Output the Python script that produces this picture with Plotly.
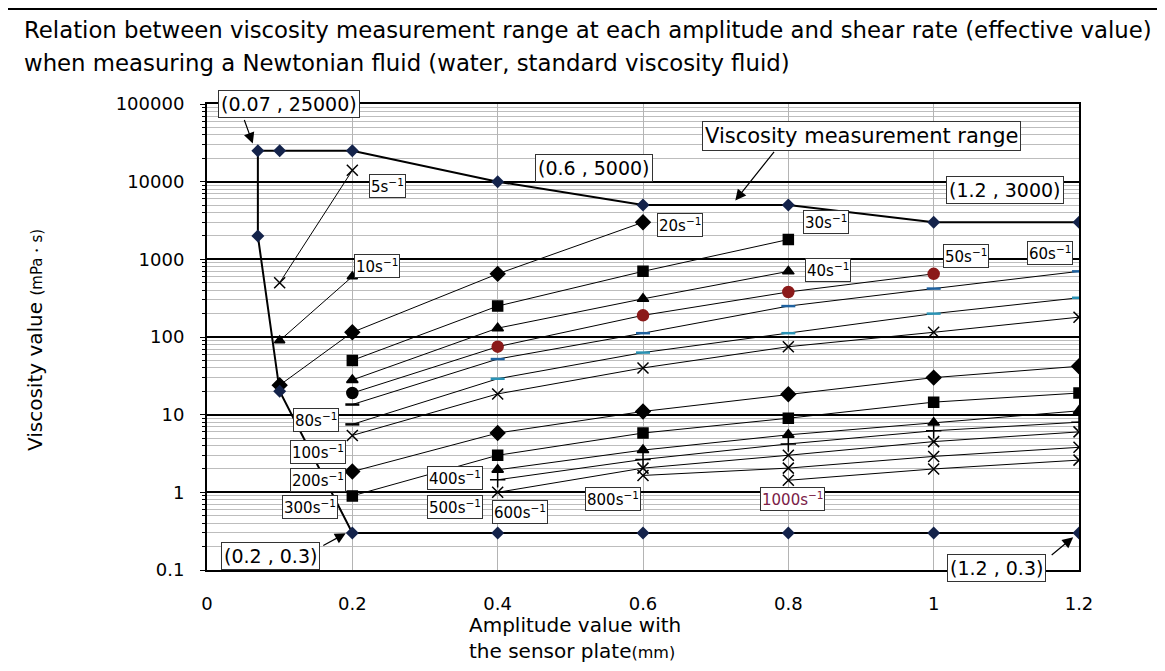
import numpy as np
import plotly.graph_objects as go

# Граница диапазона измерения вязкости
range_amp = [1.2, 1.0, 0.8, 0.6, 0.4, 0.2, 0.1, 0.07, 0.07, 0.1, 0.2, 0.4, 0.6, 0.8, 1.0, 1.2]
range_visc = [3000, 3000, 5000, 5000, 10000, 25000, 25000, 25000, 2000, 20, 0.3, 0.3, 0.3, 0.3, 0.3, 0.3]

# Кривые по скоростям сдвига
amp_5, visc_5 = [0.1, 0.2], [500, 14000]
amp_10, visc_10 = [0.1, 0.2], [90, 600]
amp_20, visc_20 = [0.1, 0.2, 0.4, 0.6], [24, 115, 650, 3000]
amp_30, visc_30 = [0.2, 0.4, 0.6, 0.8], [50, 250, 700, 1800]
amp_40, visc_40 = [0.2, 0.4, 0.6, 0.8], [28, 130, 310, 700]
amp_50, visc_50 = [0.2, 0.4, 0.6, 0.8, 1.0], [19, 75, 190, 380, 650]
amp_60, visc_60 = [0.2, 0.4, 0.6, 0.8, 1.0, 1.2], [13.5, 52, 112, 250, 420, 700]
amp_80, visc_80 = [0.2, 0.4, 0.6, 0.8, 1.0, 1.2], [7.5, 29, 63, 112, 200, 320]
amp_100, visc_100 = [0.2, 0.4, 0.6, 0.8, 1.0, 1.2], [5.4, 18.5, 40, 75, 115, 180]
amp_200, visc_200 = [0.2, 0.4, 0.6, 0.8, 1.0, 1.2], [1.85, 5.8, 11, 18.3, 30, 42]
amp_300, visc_300 = [0.2, 0.4, 0.6, 0.8, 1.0, 1.2], [0.9, 3.0, 5.8, 9.0, 14.5, 19]
amp_400, visc_400 = [0.4, 0.6, 0.8, 1.0, 1.2], [1.95, 3.5, 5.5, 7.9, 11.2]
amp_500, visc_500 = [0.4, 0.6, 0.8, 1.0, 1.2], [1.45, 2.65, 4.2, 6.2, 8.0]
amp_600, visc_600 = [0.4, 0.6, 0.8, 1.0, 1.2], [1.0, 2.05, 3.0, 4.5, 6.0]
amp_800, visc_800 = [0.6, 0.8, 1.0, 1.2], [1.65, 2.05, 2.9, 3.8]
amp_1000, visc_1000 = [0.8, 1.0, 1.2], [1.43, 2.0, 2.6]

y_ticks = [0.1, 1, 10, 100, 1000, 10000, 100000]
y_ticktext = ["0.1", "1", "10", "100", "1000", "10000", "100000"]
x_ticks = [0, 0.2, 0.4, 0.6, 0.8, 1.0, 1.2]
x_ticktext = ["0", "0.2", "0.4", "0.6", "0.8", "1", "1.2"]

FONT = "DejaVu Sans"
NAVY = "#14234b"
MAROON = "#8b1a1a"
BLUE = "#1f62a0"
TEAL = "#2a93b5"

fig = go.Figure()

# (amp, visc, символ, размер, цвет маркера)
series = [
    (amp_5, visc_5, "x-thin-open", 11, "black"),
    (amp_10, visc_10, "triangle-up", 9, "black"),
    (amp_20, visc_20, "diamond", 11, "black"),
    (amp_30, visc_30, "square", 10, "black"),
    (amp_40, visc_40, "triangle-up", 10, "black"),
    (amp_50, visc_50, "circle", 11, ["black"] + [MAROON] * 4),
    (amp_60, visc_60, "line-ew-open", 10, ["black"] + [BLUE] * 5),
    (amp_80, visc_80, "line-ew-open", 10, ["black"] + [TEAL] * 5),
    (amp_100, visc_100, "x-thin-open", 11, "black"),
    (amp_200, visc_200, "diamond", 11, "black"),
    (amp_300, visc_300, "square", 10, "black"),
    (amp_400, visc_400, "triangle-up", 10, "black"),
    (amp_500, visc_500, "cross-thin-open", 11, "black"),
    (amp_600, visc_600, "x-thin-open", 11, "black"),
    (amp_800, visc_800, "x-thin-open", 11, "black"),
    (amp_1000, visc_1000, "x-thin-open", 11, "black"),
]
for amp, visc, sym, size, col in series:
    fig.add_trace(go.Scatter(
        x=amp, y=visc, mode="lines+markers",
        line=dict(color="black", width=1),
        marker=dict(symbol=sym, size=size, color=col,
                    line=dict(color=col, width=2.5 if "line-ew" in sym else 1.5)),
        showlegend=False, hoverinfo="skip",
    ))

fig.add_trace(go.Scatter(
    x=range_amp, y=range_visc, mode="lines+markers",
    line=dict(color="black", width=2),
    marker=dict(symbol="diamond", size=10, color=NAVY),
    showlegend=False, hoverinfo="skip",
))

# Подписи скоростей сдвига: (текст, x, y, цвет)
rate_labels = [
    ("5s<sup>−1</sup>", 0.248, 8700, "black"),
    ("10s<sup>−1</sup>", 0.234, 810, "black"),
    ("20s<sup>−1</sup>", 0.651, 2730, "black"),
    ("30s<sup>−1</sup>", 0.852, 2990, "black"),
    ("40s<sup>−1</sup>", 0.855, 720, "black"),
    ("50s<sup>−1</sup>", 1.044, 1120, "black"),
    ("60s<sup>−1</sup>", 1.160, 1190, "black"),
    ("80s<sup>−1</sup>", 0.150, 8.45, "black"),
    ("100s<sup>−1</sup>", 0.153, 3.27, "black"),
    ("200s<sup>−1</sup>", 0.153, 1.43, "black"),
    ("300s<sup>−1</sup>", 0.142, 0.64, "black"),
    ("400s<sup>−1</sup>", 0.341, 1.51, "black"),
    ("500s<sup>−1</sup>", 0.341, 0.64, "black"),
    ("600s<sup>−1</sup>", 0.431, 0.553, "black"),
    ("800s<sup>−1</sup>", 0.559, 0.81, "black"),
    ("1000s<sup>−1</sup>", 0.806, 0.81, "#7a2046"),
]
for text, x, y, col in rate_labels:
    fig.add_annotation(x=x, y=np.log10(y), text=text, showarrow=False,
                       font=dict(family=FONT, size=15, color=col),
                       bgcolor="white", bordercolor="#333333", borderwidth=1, borderpad=1)

# Координатные подписи
point_labels = [
    ("(0.07 , 25000)", 0.113, 100000, 19),
    ("(0.6 , 5000)", 0.533, 14800, 19),
    ("(1.2 , 3000)", 1.098, 7700, 19),
    ("(0.2 , 0.3)", 0.087, 0.15, 19),
    ("(1.2 , 0.3)", 1.087, 0.105, 19),
    ("Viscosity measurement range", 0.901, 39300, 21),
]
for text, x, y, size in point_labels:
    fig.add_annotation(x=x, y=np.log10(y), text=text, showarrow=False,
                       font=dict(family=FONT, size=size, color="black"),
                       bgcolor="white", bordercolor="#333333", borderwidth=1, borderpad=2)

# Стрелки: (x, y головы, смещение хвоста в пикселях)
arrows = [
    (0.063, 31000, -9, -25),
    (0.727, 5730, 40, -50),
    (0.191, 0.297, -24, 13),
    (1.192, 0.264, -23, 19),
]
for x, y, ax, ay in arrows:
    fig.add_annotation(x=x, y=np.log10(y), ax=ax, ay=ay, text="", showarrow=True,
                       arrowhead=2, arrowsize=1.8, arrowwidth=1.2, arrowcolor="black")

# Заголовок
fig.add_annotation(xref="paper", yref="paper", x=-0.212, y=1.159, xanchor="left", yanchor="middle",
                   text="Relation between viscosity measurement range at each amplitude and shear rate (effective value)",
                   showarrow=False, font=dict(family=FONT, size=22.8, color="black"))
fig.add_annotation(xref="paper", yref="paper", x=-0.212, y=1.088, xanchor="left", yanchor="middle",
                   text="when measuring a Newtonian fluid (water, standard viscosity fluid)",
                   showarrow=False, font=dict(family=FONT, size=22.8, color="black"))

# Подписи осей
fig.add_annotation(xref="paper", yref="paper", x=0.298, y=-0.145, xanchor="left", yanchor="middle",
                   text="Amplitude value with<br>the sensor plate<span style='font-size:16px'>(mm)</span>",
                   showarrow=False, align="left", font=dict(family=FONT, size=20, color="black"))
fig.add_annotation(xref="paper", yref="paper", x=-0.197, y=0.494, xanchor="center", yanchor="middle",
                   text="Viscosity value <span style='font-size:15px'>(mPa・s)</span>", textangle=-90,
                   showarrow=False, font=dict(family=FONT, size=20, color="black"))

# Внешняя рамка: только верхний край (левый у самой кромки страницы)
fig.add_shape(type="line", xref="paper", yref="paper", x0=-0.3, x1=1.3, y0=1.204, y1=1.204,
              line=dict(color="black", width=2), layer="above")

fig.update_xaxes(range=[0, 1.2], tickvals=x_ticks, ticktext=x_ticktext,
                 showgrid=True, gridcolor="#b4b4b4", gridwidth=1,
                 showline=True, linecolor="black", linewidth=2, mirror=True,
                 ticks="", ticklabelstandoff=16, zeroline=False,
                 tickfont=dict(family=FONT, size=18, color="black"))
fig.update_yaxes(type="log", range=[-1, 5], tickvals=y_ticks, ticktext=y_ticktext,
                 showgrid=True, gridcolor="black", gridwidth=2,
                 showline=True, linecolor="black", linewidth=2, mirror=True,
                 ticks="outside", ticklen=5, tickcolor="black", ticklabelstandoff=12,
                 minor=dict(dtick="D1", showgrid=True, gridcolor="#bdbdbd", gridwidth=1,
                            ticks="outside", ticklen=3, tickcolor="black"),
                 tickfont=dict(family=FONT, size=18, color="black"))

# Страница добавляет отступ body 8 px со всех сторон: фигура уменьшена, чтобы не было прокрутки
fig.update_layout(
    width=1149, height=655,
    margin=dict(l=199, r=78, t=96, b=93),
    paper_bgcolor="white", plot_bgcolor="white",
    showlegend=False,
    font=dict(family=FONT, color="black"),
)

fig.write_html("out.html")
